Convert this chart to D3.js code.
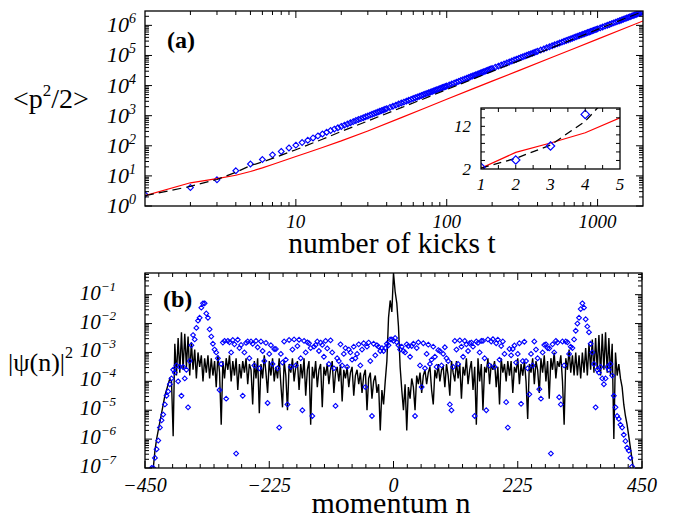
<!DOCTYPE html>
<html>
<head>
<meta charset="utf-8">
<script src="https://cdn.jsdelivr.net/npm/d3@7"></script>
<style>
  body { margin: 0; background: #fff; }
</style>
</head>
<body>
<svg id="chart" width="674" height="518"></svg>
<script>
// ---------- panel (a): <p^2/2> versus number of kicks ----------
const kicksBlue = [1,2,3,4,5,6,7,8,9,10,11,12,13,14,15,16,17,18,19,20,
  21,22,23,24,25,26,27,28,29,30,31,32,33,34,35,36,37,38,39,40,
  42,44,46,48,50,52,54,56,58,60,62,64,66,68,70,72,74,76,78,80,82,84,86,88,90,92,94,96,98,100,
  104,108,112,116,120,124,128,132,136,140,144,148,152,156,160,164,168,172,176,180,184,188,192,196,200,
  210,220,230,240,250,260,270,280,290,300,310,320,330,340,350,360,370,380,390,400,
  420,440,460,480,500,520,540,560,580,600,620,640,660,680,700,720,740,760,780,800,
  820,840,860,880,900,920,940,960,980,1000,
  1040,1080,1120,1160,1200,1240,1280,1320,1360,1400,1440,1480,1520,1560,1600,
  1640,1680,1720,1760,1800,1840,1880,1920,1960,2000];
const energyBlue = [2.4,4.1,7.4,14.8,24.8,35,50,65,85,105,128,153,182,213,246,282,320,358,398,440,
  485,532,582,634,688,744,798,857,918,981,1046,1112,1180,1251,1323,1397,1473,1551,1630,1712,
  1880,2056,2239,2428,2625,2828,3038,3255,3478,3708,3944,4186,4434,4689,4949,
  5220,5498,5782,6072,6368,6670,6978,7292,7612,7938,8278,8624,8976,9335,9700,
  10470,11270,12090,12950,13820,14730,15660,16620,17610,18620,19660,20720,21810,22930,24060,
  25230,26420,27630,28870,30130,31420,32730,34060,35420,36800,
  40440,44240,48190,52300,56560,60980,65540,70250,75100,80100,
  85240,90520,95940,101500,107200,113000,119000,125100,131300,137600,
  151000,164900,179400,194500,210000,226100,242600,260000,277500,295900,
  314800,334200,353700,374100,394900,416300,438100,460300,483100,506200,
  529900,553900,578400,604000,629400,656000,682100,709600,736600,765000,
  823100,883000,944600,1007900,1074200,1142400,1212400,1284100,1357600,1432800,
  1511700,1592400,1675000,1759500,1843200,1933800,2026500,2121200,2217900,2306900,
  2407200,2509400,2613700,2719800,2824000];

const kicksDash = [1,2,3,4,5,6,7,10,15,20,30,50,70,100,200,300,500,700,1000,1500,2000];
const energyDash = [2.2,4.5,7.6,13.2,22,29,38,74,165,300,665,1850,3600,7400,29500,66000,183000,360000,735000,1650000,2900000];

const kicksRed = [1,2,3,4,5,6,7,8,10,12,15,20,30,50,70,100,150,200,300,500,700,1000,1500,2000];
const energyRed = [2.2,5.9,8.1,10.5,14,18.5,24,30,44,60,88,145,310,860,1700,3500,7900,14000,31500,87000,170000,350000,790000,1400000];

const kickTicks = [10, 100, 1000];
const energyExponents = [0, 1, 2, 3, 4, 5, 6];
const insetKickTicks = [1, 2, 3, 4, 5];
const insetEnergyLabels = [2, 12];

// ---------- panel (b): |psi(n)|^2 versus momentum (log10 values) ----------
const momentumTicks = [-450, -225, 0, 225, 450];
const probExponents = [-1, -2, -3, -4, -5, -6, -7];

// black curve, n = -450, -447, ... 450
const blackStart = -450, blackStep = 3;
const blackLog = [
  -8,-8,-8,-8,-7.5,-7.0,-6.4,-6.0,-5.7,-5.4,
  -5.1,-4.8,-4.5,-4.3,-4.1,-3.9,-4.0,-5.9,-2.7,-3.8,
  -2.5,-3.7,-2.3,-3.6,-2.35,-3.5,-2.45,-3.8,-2.65,-3.6,
  -2.9,-3.9,-3.0,-3.5,-3.1,-4.0,-3.2,-3.7,-3.1,-3.9,
  -3.2,-3.8,-3.3,-4.2,-3.1,-3.7,-5.5,-3.3,-3.9,-3.2,
  -3.6,-3.1,-4.0,-3.3,-3.8,-3.2,-4.3,-3.4,-3.9,-3.3,
  -3.7,-3.2,-4.1,-3.4,-3.6,-4.8,-3.3,-3.9,-3.2,-5.1,
  -3.4,-3.9,-3.1,-3.7,-4.4,-3.3,-3.8,-3.2,-4.0,-3.5,
  -3.9,-3.2,-4.1,-4.9,-3.3,-3.8,-5.0,-3.4,-3.7,-3.2,
  -4.0,-3.5,-3.3,-4.3,-3.4,-3.9,-3.2,-4.5,-3.6,-3.3,
  -5.5,-3.5,-3.9,-3.3,-4.2,-3.6,-3.4,-4.9,-3.5,-3.8,
  -3.4,-4.1,-3.6,-3.3,-4.4,-3.7,-3.5,-4.0,-3.4,-4.7,
  -3.6,-3.9,-3.5,-4.2,-3.7,-3.5,-4.5,-3.8,-3.6,-4.1,
  -3.7,-4.4,-3.8,-3.6,-5.0,-3.9,-3.7,-4.6,-4.0,-3.8,
  -4.4,-4.1,-5.7,-4.3,-4.8,-4.0,-3.3,-1.8,-1.2,-1.6,
  -0.25,-0.9,-1.3,-2.1,-3.5,-4.3,-5.0,-4.1,-5.7,-4.2,
  -4.6,-3.9,-4.2,-5.0,-3.8,-4.1,-3.7,-4.4,-3.8,-3.6,
  -4.1,-3.7,-3.5,-4.3,-4.8,-3.6,-3.9,-3.4,-4.0,-3.6,
  -3.5,-4.2,-3.4,-3.8,-4.5,-3.3,-3.7,-4.0,-3.3,-3.9,
  -3.4,-4.6,-3.5,-3.8,-3.2,-4.1,-3.6,-3.3,-4.3,-3.5,
  -5.5,-3.2,-4.0,-3.4,-5.0,-3.5,-3.7,-3.2,-4.1,-3.4,
  -3.6,-3.3,-4.2,-3.5,-4.8,-3.2,-3.7,-3.4,-4.0,-3.3,
  -3.8,-3.3,-4.4,-3.5,-3.7,-3.2,-4.1,-3.4,-3.8,-3.3,
  -4.0,-5.3,-3.4,-3.7,-3.2,-4.1,-3.3,-3.6,-4.4,-3.2,
  -3.7,-3.1,-4.0,-3.3,-4.6,-3.2,-3.6,-3.0,-3.9,-3.3,
  -3.5,-3.1,-4.0,-5.5,-3.2,-3.6,-2.9,-3.7,-3.1,-3.8,
  -3.0,-3.8,-3.1,-3.9,-3.0,-3.7,-2.85,-3.8,-2.7,-3.6,
  -2.55,-3.7,-2.5,-3.6,-2.4,-3.8,-2.35,-3.6,-2.3,-3.7,
  -2.5,-3.8,-2.7,-6.0,-3.0,-3.8,-3.4,-3.9,-4.2,-4.8,
  -5.2,-5.5,-5.9,-6.3,-6.7,-7.1,-7.6,-8,-8,-8,
  -8];

// blue diamonds, three interleaved families, each sampled every 9 in n
const blueStep = 9;
const blueStartA = -450;
const blueArcA = [
  -8,-8,-6.65,-5.6,-4.8,-4.1,-3.7,-3.5,-3.9,-3.3,-2.55,-1.8,-1.3,-2.2,-2.9,
  -4.3,-2.6,-2.65,-2.72,-2.85,-3.0,-3.2,-3.45,-3.55,-3.3,-3.05,-2.88,-5.6,-2.62,-2.57,
  -2.55,-2.56,-2.6,-2.68,-2.8,-2.95,-3.15,-3.4,-3.55,-3.3,-3.05,-2.9,-2.8,-2.72,-2.68,
  -2.66,-2.7,-2.8,-2.95,-2.75,
  -2.6,
  -2.75,-2.95,-2.78,-2.7,-2.65,-2.68,-2.73,-2.8,-2.92,-3.05,-3.3,-3.5,-3.4,-3.15,-2.95,
  -2.8,-2.67,-2.6,-2.55,-2.54,-2.56,-2.62,-5.6,-2.88,-3.05,-3.3,-3.55,-3.45,-3.2,-3.0,
  -2.85,-2.72,-2.66,-2.62,-2.65,
  -2.85,-2.0,-1.3,-2.1,-3.0,-3.6,-3.9,-3.5,-3.8,-5.2,-5.6,-6.3,-6.95,-8,-8];
const blueStartB = -447;
const blueArcB = [
  -8,-7.0,-6.35,-5.35,-4.5,-3.9,-3.45,-4.5,-3.6,-2.75,-2.15,-1.45,-1.65,-2.45,-3.0,
  -3.4,-4.6,-3.0,-6.5,-2.74,-2.67,-2.62,-2.6,-2.62,-2.67,-2.75,-2.88,-3.05,-3.25,-3.5,
  -3.45,-3.2,-3.0,-2.85,-2.74,-2.66,-2.6,-2.58,-4.85,-2.72,-2.85,-3.0,-3.2,-3.45,-4.2,
  -3.3,-3.1,-2.95,-2.85,-2.55,
  -2.5,-2.9,-3.0,-3.15,-5.2,-3.45,-3.55,-3.4,-3.15,-2.95,-2.82,-4.8,-2.6,-2.58,-2.6,
  -2.68,-5.2,-3.0,-3.2,-3.45,-3.5,-3.25,-3.05,-2.88,-2.76,-2.68,-2.63,-4.45,-2.62,-4.27,
  -2.74,-2.86,-3.0,-4.55,-3.45,-3.05,
  -2.55,-1.8,-1.45,-2.3,-3.4,-3.7,-4.1,-3.6,-4.5,-5.3,-5.85,-6.4,-7.1,-8];
const blueStartC = -444;
const blueArcC = [
  -8,-7.0,-6.05,-5.15,-4.35,-3.6,-4.0,-3.5,-4.9,-2.4,-1.9,-1.3,-1.8,-2.7,-3.2,
  -2.66,-2.6,-2.57,-2.56,-4.5,-2.62,-2.7,-2.82,-2.95,-4.75,-3.4,-3.55,-3.35,-4.8,-2.9,
  -2.78,-5.0,-2.65,-5.2,-2.62,-2.74,-2.86,-3.0,-3.2,-3.45,-3.5,-3.25,-3.05,-2.9,-2.8,
  -5.2,-2.75,-2.85,-2.7,-2.55,
  -2.65,-2.8,-2.72,-2.78,-2.85,-4.2,-3.05,-3.25,-3.5,-3.45,-3.2,-5.0,-2.9,-2.8,-2.72,
  -2.66,-2.62,-2.6,-5.0,-2.62,-2.68,-2.78,-4.72,-3.1,-3.35,-4.78,-3.3,-3.05,-2.9,-4.6,
  -2.72,-6.5,-2.6,-4.8,-2.62,-2.8,
  -2.25,-1.5,-1.85,-2.7,-4.9,-3.5,-3.9,-3.4,-4.9,-5.5,-6.07,-6.65,-7.2,-8];

// ---------- drawing ----------
const SERIF = "'Liberation Serif', 'DejaVu Serif', 'Times New Roman', Times, serif";
const svg = d3.select("#chart");
const diamond = r => `M0,${-r}L${r},0L0,${r}L${-r},0Z`;

function txt(g, x, y, size, opts = {}) {
  return g.append("text").attr("x", x).attr("y", y)
    .attr("font-family", SERIF).attr("font-size", size)
    .attr("font-style", opts.italic ? "italic" : "normal")
    .attr("font-weight", opts.bold ? "bold" : "normal")
    .attr("text-anchor", opts.anchor || "start")
    .attr("fill", "#000");
}

function logMinors(lo, hi) {
  const out = [];
  for (let d = Math.floor(Math.log10(lo)); d <= Math.ceil(Math.log10(hi)); d++) {
    for (let m = 2; m <= 9; m++) {
      const v = m * Math.pow(10, d);
      if (v > lo && v < hi) out.push(v);
    }
  }
  return out;
}

function drawXTicks(g, scale, vals, box, len) {
  g.selectAll(null).data(vals).join("path")
    .attr("d", d => {
      const x = scale(d);
      return `M${x},${box.bottom}V${box.bottom - len}M${x},${box.top}V${box.top + len}`;
    })
    .attr("stroke", "#000").attr("stroke-width", 1);
}
function drawYTicks(g, scale, vals, box, len) {
  g.selectAll(null).data(vals).join("path")
    .attr("d", d => {
      const y = scale(d);
      return `M${box.left},${y}H${box.left + len}M${box.right},${y}H${box.right - len}`;
    })
    .attr("stroke", "#000").attr("stroke-width", 1);
}
function frame(g, box) {
  g.append("rect")
    .attr("x", box.left).attr("y", box.top)
    .attr("width", box.right - box.left).attr("height", box.bottom - box.top)
    .attr("fill", "none").attr("stroke", "#000").attr("stroke-width", 1.3);
}
function powLabel(g, x, y, exp, size, expSize, raise) {
  const t = txt(g, x, y, size, { italic: true, anchor: "end" });
  t.append("tspan").text("10");
  t.append("tspan").attr("dy", -raise).attr("font-size", expSize)
    .text(String(exp).replace("-", "\u2212"));
}
function clip(id, box) {
  svg.append("clipPath").attr("id", id).append("rect")
    .attr("x", box.left).attr("y", box.top)
    .attr("width", box.right - box.left).attr("height", box.bottom - box.top);
}

// panel (a)
const boxA = { left: 145, right: 643, top: 11, bottom: 206 };
const xA = d3.scaleLog().domain([1, 2000]).range([boxA.left, boxA.right]);
const yA = d3.scaleLog().domain([1, 3e6]).range([boxA.bottom, boxA.top]);
clip("clipA", boxA);
const gA = svg.append("g");
const plotA = gA.append("g").attr("clip-path", "url(#clipA)");

const blueA = kicksBlue.map((t, i) => ({ t, v: energyBlue[i] }));
const dashA = kicksDash.map((t, i) => ({ t, v: energyDash[i] }));
const redA = kicksRed.map((t, i) => ({ t, v: energyRed[i] }));

plotA.selectAll("path.pt").data(blueA).join("path").attr("class", "pt")
  .attr("transform", d => `translate(${xA(d.t)},${yA(d.v)})`)
  .attr("d", diamond(2.9)).attr("fill", "none").attr("stroke", "#0000ff").attr("stroke-width", 1.15);
const lineA = d3.line().x(d => xA(d.t)).y(d => yA(d.v));
plotA.append("path").datum(redA).attr("d", lineA)
  .attr("fill", "none").attr("stroke", "#ff0000").attr("stroke-width", 1.2);
plotA.append("path").datum(dashA).attr("d", lineA)
  .attr("fill", "none").attr("stroke", "#000").attr("stroke-width", 1.2).attr("stroke-dasharray", "9,5");

frame(gA, boxA);
drawXTicks(gA, xA, kickTicks, boxA, 7);
drawXTicks(gA, xA, logMinors(1, 2000), boxA, 4);
drawYTicks(gA, yA, energyExponents.map(e => Math.pow(10, e)), boxA, 7);
drawYTicks(gA, yA, logMinors(1, 3e6), boxA, 4);

kickTicks.forEach(d => txt(gA, xA(d), 228, 19, { italic: true, anchor: "middle" }).text(d));
energyExponents.forEach(e => powLabel(gA, 136, yA(Math.pow(10, e)) + 7, e, 22, 14, 9));

txt(gA, 167, 48, 24, { bold: true }).text("(a)");
txt(gA, 392, 253, 29.5, { anchor: "middle" }).text("number of kicks t");
const ytA = txt(gA, 13, 108, 28);
ytA.append("tspan").text("<p");
ytA.append("tspan").attr("dy", -12).attr("font-size", 17).text("2");
ytA.append("tspan").attr("dy", 12).text("/2>");

// inset
const boxI = { left: 481, right: 620, top: 108, bottom: 169 };
const xI = d3.scaleLinear().domain([1, 5]).range([boxI.left, boxI.right]);
const yI = d3.scaleLinear().domain([2, 16.3]).range([boxI.bottom, boxI.top]);
clip("clipI", boxI);
const gI = svg.append("g");
gI.append("rect").attr("x", boxI.left).attr("y", boxI.top)
  .attr("width", boxI.right - boxI.left).attr("height", boxI.bottom - boxI.top).attr("fill", "#fff");
const plotI = gI.append("g").attr("clip-path", "url(#clipI)");
const lineI = d3.line().x(d => xI(d.t)).y(d => yI(d.v));
plotI.append("path").datum(redA.filter(d => d.t <= 6)).attr("d", lineI)
  .attr("fill", "none").attr("stroke", "#ff0000").attr("stroke-width", 1.2);
plotI.append("path").datum(dashA.filter(d => d.t <= 6)).attr("d", lineI)
  .attr("fill", "none").attr("stroke", "#000").attr("stroke-width", 1.3).attr("stroke-dasharray", "8,5");
plotI.selectAll("path.pt").data(blueA.filter(d => d.t <= 5 && d.v <= 16.3)).join("path").attr("class", "pt")
  .attr("transform", d => `translate(${xI(d.t)},${yI(d.v)})`)
  .attr("d", diamond(4.2)).attr("fill", "none").attr("stroke", "#0000ff").attr("stroke-width", 1.2);
frame(gI, boxI);
drawXTicks(gI, xI, d3.range(1.5, 5, 0.5), boxI, 4);
drawYTicks(gI, yI, d3.range(4, 16.3, 2), boxI, 4);
insetKickTicks.forEach(d => txt(gI, xI(d), 190, 17, { italic: true, anchor: "middle" }).text(d));
insetEnergyLabels.forEach(d => txt(gI, 471, yI(d) + 6, 17, { italic: true, anchor: "end" }).text(d));

// panel (b)
const boxB = { left: 145, right: 642, top: 273, bottom: 468 };
const xB = d3.scaleLinear().domain([-450, 450]).range([boxB.left, boxB.right]);
const yB = d3.scaleLog().domain([1e-7, Math.pow(10, -0.25)]).range([boxB.bottom, boxB.top]);
clip("clipB", boxB);
const gB = svg.append("g");
const plotB = gB.append("g").attr("clip-path", "url(#clipB)");

const black = blackLog.map((v, i) => ({ n: blackStart + i * blackStep, v: Math.pow(10, v) }));
const arcs = [[blueStartA, blueArcA], [blueStartB, blueArcB], [blueStartC, blueArcC]];
const blue = arcs.flatMap(([s, arr]) => arr.map((v, i) => ({ n: s + i * blueStep, v: Math.pow(10, v) })))
  .filter(d => d.v >= 8e-8);

plotB.append("path").datum(black)
  .attr("d", d3.line().x(d => xB(d.n)).y(d => yB(Math.max(d.v, 1e-9))))
  .attr("fill", "none").attr("stroke", "#000").attr("stroke-width", 1.4);
plotB.selectAll("path.pt").data(blue).join("path").attr("class", "pt")
  .attr("transform", d => `translate(${xB(d.n)},${yB(d.v)})`)
  .attr("d", diamond(2.4)).attr("fill", "none").attr("stroke", "#0000ff").attr("stroke-width", 1.1);

frame(gB, boxB);
drawXTicks(gB, xB, momentumTicks, boxB, 7);
drawXTicks(gB, xB, d3.range(-425, 450, 25).filter(v => v % 225 !== 0), boxB, 4);
drawYTicks(gB, yB, probExponents.map(e => Math.pow(10, e)), boxB, 7);
drawYTicks(gB, yB, logMinors(1e-7, Math.pow(10, -0.25)), boxB, 4);

momentumTicks.forEach(d => txt(gB, xB(d), 492, 20, { italic: true, anchor: "middle" })
  .text(String(d).replace("-", "\u2212")));
probExponents.forEach(e => powLabel(gB, 116, yB(Math.pow(10, e)) + 5, e, 21, 13, 9));

txt(gB, 163, 307, 24, { bold: true }).text("(b)");
txt(gB, 391, 513, 30, { anchor: "middle" }).text("momentum n");
const ytB = txt(gB, 8, 371, 26);
ytB.append("tspan").text("|\u03c8(n)|");
ytB.append("tspan").attr("dy", -13).attr("font-size", 16).text("2");
</script>
</body>
</html>
